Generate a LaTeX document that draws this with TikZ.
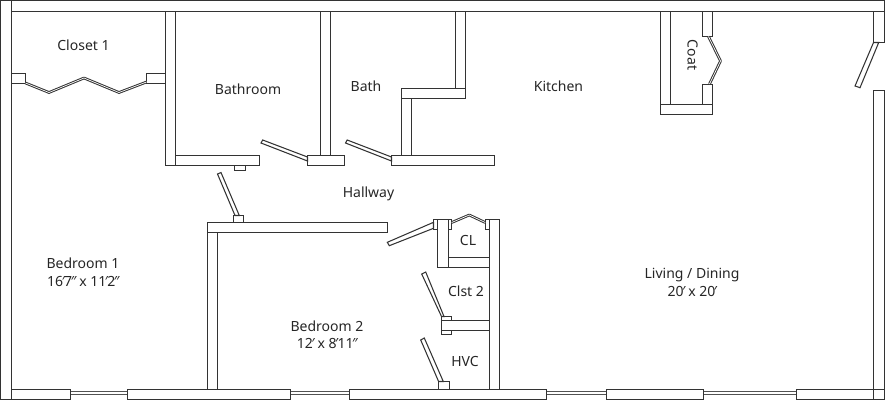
\documentclass[tikz,border=0pt]{standalone}
\usepackage{fontspec}
\setmainfont{Noto Sans}
\definecolor{ink}{HTML}{333333}
\newcommand{\pr}{\kern-.1em ′\kern-.06em }
\newcommand{\prr}{\kern-.1em ″\kern-.06em }
\newcommand{\tx}{\kern.26em x\kern.26em }
\tikzset{
  wall/.style={draw=ink,line width=1.4pt,fill=white,line join=miter},
  door/.style={draw=ink,line width=1.05pt,fill=white,line join=miter},
  bifold/.style={draw=ink,line width=1pt,double=white,double distance=.7pt,line join=bevel},
  glass/.style={draw=ink!85,line width=1.4pt},
  lbl/.style={font=\fontsize{14}{18.5}\selectfont,text=black!85,align=center,inner sep=0pt}
}
\begin{document}
\begin{tikzpicture}[x=1pt,y=-1pt]
\useasboundingbox (0,0) rectangle (885,400);
\fill[white] (0,0) rectangle (885,400);
% windows
\foreach \a/\b in {70.5/127.5,290.5/349.5,546.5/606.5,703.5/796.5}{
  \draw[glass] (\a,391.7) -- (\b,391.7);
  \draw[glass] (\a,394.3) -- (\b,394.3);
}
% interior walls
\draw[wall] (165.5,11.5) rectangle (175.5,165.5);
\draw[wall] (175.5,155.5) rectangle (259.5,165.5);
\draw[wall] (234.5,165.5) rectangle (245.5,170.5);
\draw[wall] (320.5,11.5) rectangle (330.5,155.5);
\draw[wall] (307.5,155.5) rectangle (344.5,165.5);
\draw[wall] (455.5,11.5) rectangle (465.5,88.5);
\draw[wall] (401.5,88.5) rectangle (465.5,98.5);
\draw[wall] (401.5,98.5) rectangle (411.5,155.5);
\draw[wall] (391.5,155.5) rectangle (494.5,165.5);
\draw[wall] (207.5,232.5) rectangle (217.5,389.5);
\draw[wall] (207.5,222.5) rectangle (387.5,232.5);
\draw[wall] (233.5,215.5) rectangle (243.5,222.5);
% closet 1
\draw[wall] (11.5,73.5) rectangle (25.5,83.5);
\draw[wall] (146.5,73.5) rectangle (165.5,83.5);
\draw[bifold] (25.5,83) -- (49,92.5) -- (84,78) -- (119,92.5) -- (146.5,82);
% coat closet
\draw[wall] (660.5,11.5) rectangle (670.5,104.5);
\draw[wall] (702.5,11.5) rectangle (712.5,36.5);
\draw[wall] (702.5,84.5) rectangle (712.5,104.5);
\draw[wall] (660.5,104.5) rectangle (712.5,114.5);
\draw[bifold] (708.5,36.5) -- (720.5,61) -- (709.5,84);
% right jamb & door
\draw[wall] (873.5,11.5) rectangle (884.5,42.5);
\draw[wall] (873.5,90.5) rectangle (884.5,399.5);
\draw[door] (873.5,42.5) -- (878.7,42.5) -- (860,87.7) -- (855,86) -- cycle;
% CL / Clst 2 / HVC
\draw[wall] (489.5,219.5) rectangle (499.5,389.5);
\draw[wall] (437.5,219.5) rectangle (448.5,267.5);
\draw[wall] (448.5,257.5) rectangle (489.5,267.5);
\draw[wall] (433.5,219.5) rectangle (437.5,229.5);
\draw[wall] (448.5,219.5) rectangle (451.5,229.5);
\draw[wall] (485.5,219.5) rectangle (489.5,229.5);
\draw[bifold] (451.7,222.5) -- (469.3,215) -- (485.2,222.5);
\draw[wall] (441.5,316.5) rectangle (451.5,334.5);
\draw[wall] (441.5,320.5) rectangle (489.5,330.5);
\draw[wall] (438.5,381.5) rectangle (449.5,389.5);
% doors
\draw[door] (217.5,174) -- (221,172.5) -- (239.3,215.5) -- (235,215.5) -- cycle;
\draw[door] (261,143) -- (262.7,140) -- (307.5,157) -- (307.5,161) -- cycle;
\draw[door] (345.5,143) -- (347.2,140) -- (391.5,157) -- (391.5,161) -- cycle;
\draw[door] (387.3,242.3) -- (389.3,245.7) -- (433.5,228.3) -- (433.5,222.3) -- cycle;
\draw[door] (421.7,274) -- (425.7,272) -- (444,316.5) -- (441.5,316.5) -- cycle;
\draw[door] (420.7,340) -- (424.3,338) -- (443.3,381.5) -- (438.6,381.5) -- cycle;
% outer walls
\draw[wall] (0.5,0.5) rectangle (884.5,11.5);
\draw[wall] (0.5,0.5) rectangle (11.5,399.5);
\foreach \a/\b in {11.5/70.5,127.5/290.5,349.5/546.5,606.5/703.5,796.5/873.5}{
  \draw[wall] (\a,389.5) rectangle (\b,399.5);
}
\draw[wall] (873.5,389.5) rectangle (884.5,399.5);
% labels
\node[lbl] (closet) at (83.5,45) {Closet 1};
\node[lbl] (bathroom) at (248,89) {Bathroom};
\node[lbl] (bath) at (366,86) {Bath};
\node[lbl] (kitchen) at (558.5,86) {Kitchen};
\node[lbl,rotate=-90] (coat) at (692.5,55) {Coat};
\node[lbl] (hallway) at (368.5,194) {Hallway};
\node[lbl] (bed1) at (83,272) {Bedroom 1\\16\pr 7\prr\tx 11\pr 2\prr};
\node[lbl] (bed2) at (327,335) {Bedroom 2\\[-1.5pt]12\pr\tx 8\pr 11\prr};
\node[lbl] (cl) at (468,240.5) {CL};
\node[lbl] (clst) at (466,291) {Clst 2};
\node[lbl] (hvc) at (465,361) {HVC};
\node[lbl] (living) at (692,282.5) {Living / Dining\\20\pr\tx 20\pr};
\end{tikzpicture}
\end{document}
